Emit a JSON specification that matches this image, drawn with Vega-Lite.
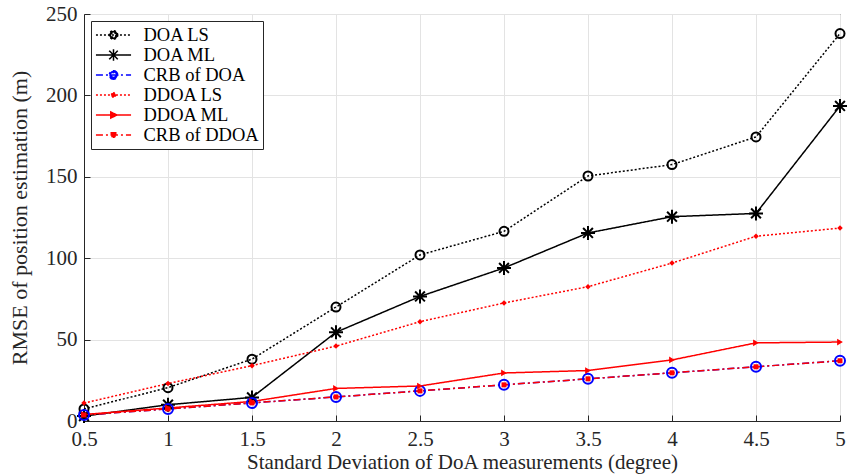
{
  "$schema": "https://vega.github.io/schema/vega-lite/v6.json",
  "width": 756,
  "height": 407,
  "autosize": "none",
  "padding": {"left": 84, "top": 14, "right": 7, "bottom": 53},
  "background": "white",
  "config": {
    "font": "Liberation Serif",
    "view": {"stroke": "#262626", "strokeWidth": 1},
    "axis": {
      "labelFont": "Liberation Serif",
      "titleFont": "Liberation Serif",
      "labelFontSize": 21,
      "titleFontSize": 21,
      "titleFontWeight": "normal",
      "labelColor": "#262626",
      "titleColor": "#262626",
      "domainColor": "#262626",
      "tickColor": "#262626",
      "tickSize": -6,
      "labelFlush": false,
      "gridColor": "#e3e3e3",
      "gridWidth": 1
    },
    "legend": {
      "labelFont": "Liberation Serif",
      "labelFontSize": 18.5,
      "labelColor": "black"
    }
  },
  "data": {
    "values": [
      {"x": 0.5, "series": "DOA LS", "y": 7.4},
      {"x": 1, "series": "DOA LS", "y": 20.5},
      {"x": 1.5, "series": "DOA LS", "y": 38},
      {"x": 2, "series": "DOA LS", "y": 70},
      {"x": 2.5, "series": "DOA LS", "y": 102},
      {"x": 3, "series": "DOA LS", "y": 116.5},
      {"x": 3.5, "series": "DOA LS", "y": 150.5},
      {"x": 4, "series": "DOA LS", "y": 157.5},
      {"x": 4.5, "series": "DOA LS", "y": 174.5},
      {"x": 5, "series": "DOA LS", "y": 238},
      {"x": 0.5, "series": "DOA ML", "y": 3},
      {"x": 1, "series": "DOA ML", "y": 10},
      {"x": 1.5, "series": "DOA ML", "y": 14.5},
      {"x": 2, "series": "DOA ML", "y": 54.5},
      {"x": 2.5, "series": "DOA ML", "y": 76.5},
      {"x": 3, "series": "DOA ML", "y": 94},
      {"x": 3.5, "series": "DOA ML", "y": 115.5},
      {"x": 4, "series": "DOA ML", "y": 125.5},
      {"x": 4.5, "series": "DOA ML", "y": 127.5},
      {"x": 5, "series": "DOA ML", "y": 193.5},
      {"x": 0.5, "series": "CRB of DOA", "y": 3.7},
      {"x": 1, "series": "CRB of DOA", "y": 7.4},
      {"x": 1.5, "series": "CRB of DOA", "y": 11.1},
      {"x": 2, "series": "CRB of DOA", "y": 14.8},
      {"x": 2.5, "series": "CRB of DOA", "y": 18.5},
      {"x": 3, "series": "CRB of DOA", "y": 22.2},
      {"x": 3.5, "series": "CRB of DOA", "y": 25.9},
      {"x": 4, "series": "CRB of DOA", "y": 29.6},
      {"x": 4.5, "series": "CRB of DOA", "y": 33.3},
      {"x": 5, "series": "CRB of DOA", "y": 37},
      {"x": 0.5, "series": "DDOA LS", "y": 11},
      {"x": 1, "series": "DDOA LS", "y": 23},
      {"x": 1.5, "series": "DDOA LS", "y": 34},
      {"x": 2, "series": "DDOA LS", "y": 46},
      {"x": 2.5, "series": "DDOA LS", "y": 61},
      {"x": 3, "series": "DDOA LS", "y": 72.5},
      {"x": 3.5, "series": "DDOA LS", "y": 82.5},
      {"x": 4, "series": "DDOA LS", "y": 97},
      {"x": 4.5, "series": "DDOA LS", "y": 113.5},
      {"x": 5, "series": "DDOA LS", "y": 118.5},
      {"x": 0.5, "series": "DDOA ML", "y": 4},
      {"x": 1, "series": "DDOA ML", "y": 8},
      {"x": 1.5, "series": "DDOA ML", "y": 12},
      {"x": 2, "series": "DDOA ML", "y": 20},
      {"x": 2.5, "series": "DDOA ML", "y": 21.5},
      {"x": 3, "series": "DDOA ML", "y": 29.5},
      {"x": 3.5, "series": "DDOA ML", "y": 31},
      {"x": 4, "series": "DDOA ML", "y": 37.5},
      {"x": 4.5, "series": "DDOA ML", "y": 48},
      {"x": 5, "series": "DDOA ML", "y": 48.5},
      {"x": 0.5, "series": "CRB of DDOA", "y": 3.7},
      {"x": 1, "series": "CRB of DDOA", "y": 7.4},
      {"x": 1.5, "series": "CRB of DDOA", "y": 11.1},
      {"x": 2, "series": "CRB of DDOA", "y": 14.8},
      {"x": 2.5, "series": "CRB of DDOA", "y": 18.5},
      {"x": 3, "series": "CRB of DDOA", "y": 22.2},
      {"x": 3.5, "series": "CRB of DDOA", "y": 25.9},
      {"x": 4, "series": "CRB of DDOA", "y": 29.6},
      {"x": 4.5, "series": "CRB of DDOA", "y": 33.3},
      {"x": 5, "series": "CRB of DDOA", "y": 37}
    ]
  },
  "encoding": {
    "x": {
      "field": "x", "type": "quantitative",
      "scale": {"domain": [0.5, 5], "nice": false, "zero": false},
      "axis": {"values": [0.5, 1, 1.5, 2, 2.5, 3, 3.5, 4, 4.5, 5], "format": "~g", "title": "Standard Deviation of DoA measurements (degree)", "labelPadding": 13, "titlePadding": 2}
    },
    "y": {
      "field": "y", "type": "quantitative",
      "scale": {"domain": [0, 250], "nice": false},
      "axis": {"values": [0, 50, 100, 150, 200, 250], "title": "RMSE of position estimation (m)", "titleFontSize": 22, "labelPadding": 13, "titlePadding": 14}
    }
  },
  "layer": [
    {
      "mark": {"type": "line", "strokeWidth": 1.5},
      "encoding": {
        "color": {
          "field": "series", "type": "nominal",
          "scale": {
            "domain": ["DOA LS", "DOA ML", "CRB of DOA", "DDOA LS", "DDOA ML", "CRB of DDOA"],
            "range": ["black", "black", "blue", "red", "red", "red"]
          },
          "legend": {
            "title": null, "orient": "top-left", "offset": 7,
            "symbolType": "stroke", "symbolSize": 324, "symbolStrokeWidth": 1.5,
            "symbolOffset": 8.5,
            "strokeColor": "#262626", "fillColor": "white", "padding": 4,
            "rowPadding": 0, "labelOffset": 20,
            "encode": {
              "symbols": {
                "update": {
                  "fill": {"scale": "color", "field": "value"},
                  "shape": {"signal": "datum.value === 'DOA LS' || datum.value === 'CRB of DOA' ? 'M-1.95,0L1.95,0M0.47,0A0.47,0.47 0 1 0 -0.47,0A0.47,0.47 0 1 0 0.47,0ZM0.27,0A0.27,0.27 0 1 1 -0.27,0A0.27,0.27 0 1 1 0.27,0Z' : datum.value === 'DOA ML' ? 'M-1.95,0L1.95,0M0,-0.65L0,0.65M-0.48,-0.48L0.48,0.48M-0.48,0.48L0.48,-0.48' : datum.value === 'DDOA LS' ? 'M-1.95,0L1.95,0M0,-0.3L0.3,0L0,0.3L-0.3,0Z' : datum.value === 'DDOA ML' ? 'M-1.95,0L1.95,0M-0.3,-0.33L0.4,0L-0.3,0.33Z' : 'M-1.95,0L1.95,0M-0.25,-0.25L0.25,-0.25L0.25,0.25L-0.25,0.25Z'"}
                }
              }
            }
          }
        },
        "strokeDash": {
          "field": "series", "type": "nominal",
          "scale": {
            "domain": ["DOA LS", "DOA ML", "CRB of DOA", "DDOA LS", "DDOA ML", "CRB of DDOA"],
            "range": [[2, 2], [1, 0], [7, 3, 2, 3], [2, 2], [1, 0], [7, 3, 2, 3]]
          }
        },
        "detail": {"field": "series"}
      }
    },
    {
      "transform": [{"filter": "datum.series == 'DOA LS'"}],
      "mark": {"type": "point", "shape": "circle", "filled": false, "size": 81, "strokeWidth": 2, "stroke": "black", "opacity": 1}
    },
    {
      "transform": [{"filter": "datum.series == 'DOA ML'"}],
      "mark": {"type": "point", "shape": "M-1,0L1,0M0,-1L0,1M-0.7,-0.7L0.7,0.7M-0.7,0.7L0.7,-0.7", "filled": false, "size": 196, "strokeWidth": 2, "stroke": "black", "opacity": 1}
    },
    {
      "transform": [{"filter": "datum.series == 'CRB of DOA'"}],
      "mark": {"type": "point", "shape": "circle", "filled": false, "size": 100, "strokeWidth": 2, "stroke": "blue", "opacity": 1}
    },
    {
      "transform": [{"filter": "datum.series == 'DDOA LS'"}],
      "mark": {"type": "point", "shape": "diamond", "filled": true, "size": 30, "fill": "red", "opacity": 1}
    },
    {
      "transform": [{"filter": "datum.series == 'DDOA ML'"}],
      "mark": {"type": "point", "shape": "triangle-right", "filled": true, "size": 45, "fill": "red", "opacity": 1}
    },
    {
      "transform": [{"filter": "datum.series == 'CRB of DDOA'"}],
      "mark": {"type": "point", "shape": "square", "filled": true, "size": 25, "fill": "red", "opacity": 1}
    }
  ]
}
